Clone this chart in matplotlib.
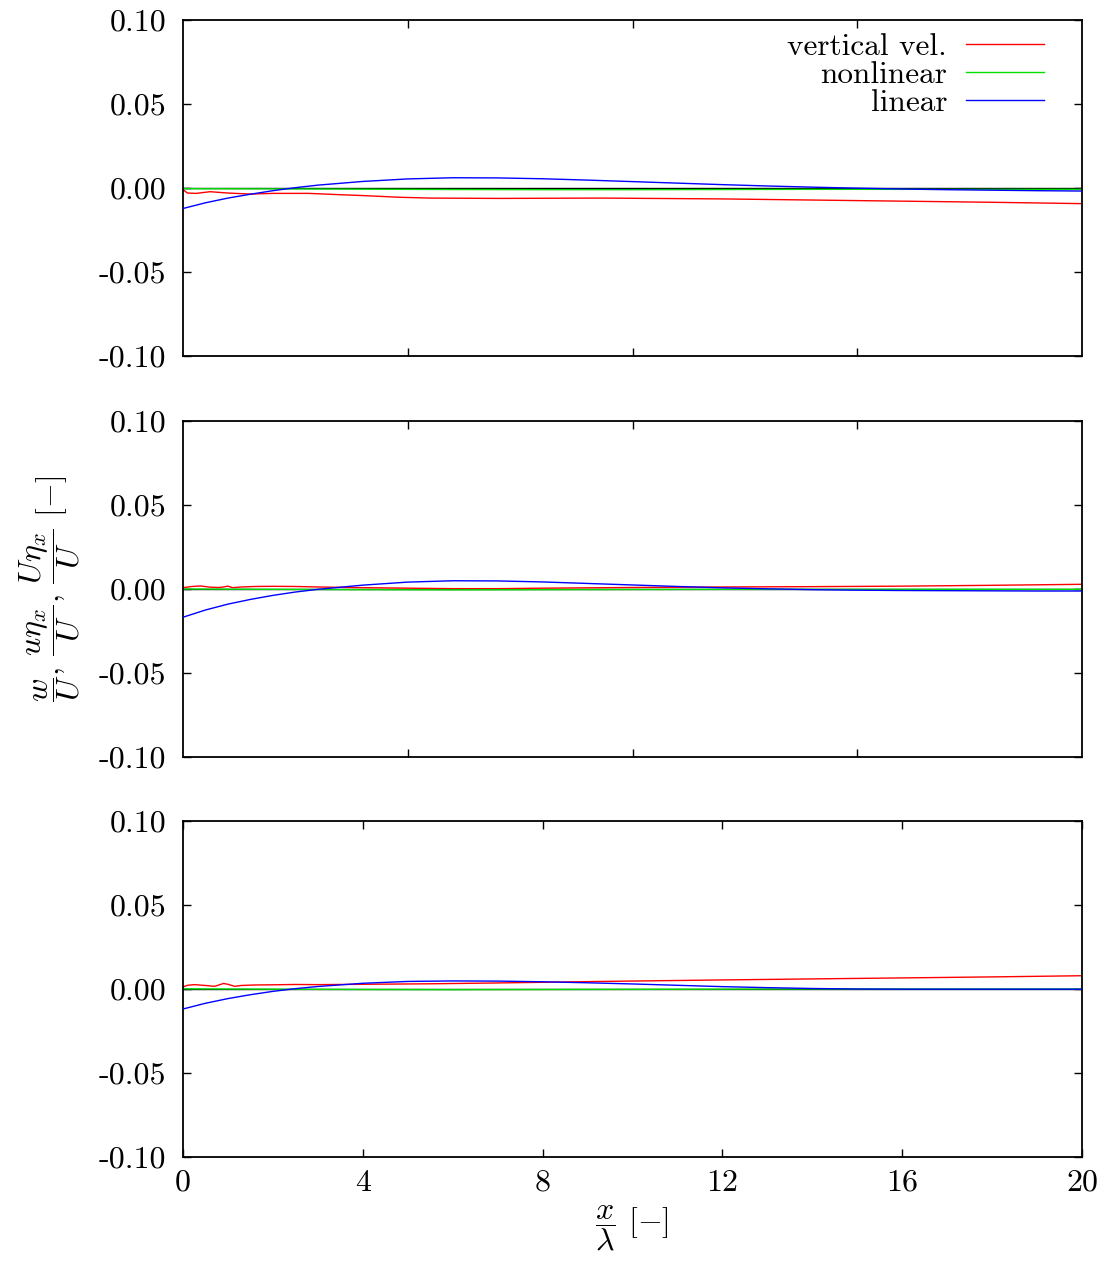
import numpy as np
import matplotlib
matplotlib.use("Agg")
import matplotlib.pyplot as plt

plt.rcParams['font.family'] = ['cmr10', 'DejaVu Serif']
plt.rcParams['mathtext.fontset'] = 'cm'
plt.rcParams['axes.unicode_minus'] = False
plt.rcParams['axes.formatter.use_mathtext'] = True

# panel 1
x1_red = [0, 0.1, 0.3, 0.6, 1.0, 1.5, 2.0, 2.8, 3.5, 4.0, 4.8, 5.5, 7.0, 9.3, 12.0, 15.0, 18.0, 20.0]
y1_red = [-0.001, -0.003, -0.0032, -0.0022, -0.003, -0.0036, -0.0032, -0.0032, -0.004, -0.0045, -0.0055,
          -0.006, -0.0062, -0.006, -0.0065, -0.0075, -0.0085, -0.0093]
x1_green = [0, 2, 4, 6, 8, 10, 12, 14, 16, 18, 20]
y1_green = [-0.0004, -0.0005, -0.0007, -0.0009, -0.001, -0.001, -0.0009, -0.0008, -0.0008, -0.0008, -0.0008]
x1_blue = [0, 0.5, 1, 1.5, 2, 2.5, 3, 4, 5, 6, 7, 8, 9, 10, 11, 12, 13, 14, 15, 16, 17, 18, 19, 20]
y1_blue = [-0.0122, -0.0088, -0.006, -0.0037, -0.0016, 0.0002, 0.0017, 0.0039, 0.0054, 0.0061, 0.006,
           0.0055, 0.0047, 0.0038, 0.0029, 0.002, 0.0012, 0.0005, -0.0001, -0.0006, -0.001, -0.0013,
           -0.0016, -0.0018]

# panel 2
x2_red = [0, 0.2, 0.4, 0.6, 0.8, 0.9, 1.0, 1.1, 1.3, 1.6, 2.0, 2.5, 3.0, 4.0, 5.0, 6.0, 7.0, 8.0, 9.0,
          10.0, 12.0, 14.0, 16.0, 18.0, 20.0]
y2_red = [0.0008, 0.0015, 0.0018, 0.0011, 0.0009, 0.0012, 0.0017, 0.0008, 0.0012, 0.0015, 0.0016, 0.0015,
          0.0012, 0.0008, 0.0005, 0.0002, 0.0002, 0.0005, 0.0007, 0.0009, 0.0012, 0.0014, 0.0017, 0.0022,
          0.0028]
x2_green = [0, 2, 4, 6, 8, 10, 12, 14, 16, 18, 20]
y2_green = [0.0, -0.0002, -0.0004, -0.0005, -0.0004, -0.0003, -0.0002, -0.0002, -0.0002, -0.0002, -0.0002]
x2_blue = [0, 0.5, 1, 1.5, 2, 2.5, 3, 4, 5, 6, 7, 8, 9, 10, 11, 12, 13, 14, 15, 16, 17, 18, 19, 20]
y2_blue = [-0.0168, -0.0125, -0.009, -0.0062, -0.0038, -0.0018, -0.0002, 0.0023, 0.0041, 0.0049, 0.0048,
           0.0042, 0.0033, 0.0024, 0.0015, 0.0007, 0.0001, -0.0004, -0.0007, -0.0009, -0.001, -0.0011,
           -0.0012, -0.0012]

# panel 3
x3_red = [0, 0.1, 0.25, 0.5, 0.7, 0.8, 0.9, 1.0, 1.15, 1.3, 1.6, 2.0, 2.5, 3.0, 4.0, 5.5, 7.0, 9.3,
          12.0, 15.0, 18.0, 20.0]
y3_red = [0.0012, 0.0022, 0.0026, 0.0021, 0.0016, 0.0024, 0.0033, 0.0028, 0.0016, 0.0021, 0.0024, 0.0025,
          0.0027, 0.0026, 0.0028, 0.0031, 0.0036, 0.0045, 0.0054, 0.0063, 0.0072, 0.0079]
x3_green = [0, 2, 4, 6, 8, 10, 12, 14, 16, 18, 20]
y3_green = [0.0001, -0.0001, -0.0003, -0.0004, -0.0003, -0.0002, -0.0001, 0.0, 0.0, 0.0, 0.0]
x3_blue = [0, 0.5, 1, 1.5, 2, 2.5, 3, 4, 5, 6, 7, 8, 9, 10, 11, 12, 13, 14, 15, 16, 17, 18, 19, 20]
y3_blue = [-0.0119, -0.0085, -0.0057, -0.0034, -0.0014, 0.0002, 0.0015, 0.0034, 0.0045, 0.0048, 0.0047,
           0.0043, 0.0037, 0.003, 0.0022, 0.0014, 0.0008, 0.0003, 0.0, -0.0001, -0.0001, -0.0001,
           -0.0001, -0.0001]

panels = [
    (x1_red, y1_red, x1_green, y1_green, x1_blue, y1_blue),
    (x2_red, y2_red, x2_green, y2_green, x2_blue, y2_blue),
    (x3_red, y3_red, x3_green, y3_green, x3_blue, y3_blue),
]

ytick_vals = [-0.10, -0.05, 0.00, 0.05, 0.10]
ytick_labels = ['-0.10', '-0.05', '0.00', '0.05', '0.10']
xtick_top = [5, 10, 15]
xtick_bottom = [0, 4, 8, 12, 16, 20]

W, H = 1112, 1264
fig = plt.figure(figsize=(W / 100, H / 100), dpi=100)

left, right = 183, 1082
tops = [20, 421, 821]
height = 336
fs = 23

for i, (xr, yr, xg, yg, xb, yb) in enumerate(panels):
    ax = fig.add_axes([left / W, 1 - (tops[i] + height) / H, (right - left) / W, height / H])
    ax.axhline(0, color='black', lw=1.0, zorder=1)
    ax.plot(xr, yr, color='#ff0000', lw=1.0, label='vertical vel.', zorder=2)
    ax.plot(xg, yg, color='#00e000', lw=1.0, label='nonlinear', zorder=2)
    ax.plot(xb, yb, color='#0000ff', lw=1.0, label='linear', zorder=3)
    ax.set_xlim(0, 20)
    ax.set_ylim(-0.1, 0.1)
    ax.set_yticks(ytick_vals)
    ax.set_yticklabels(ytick_labels)
    if i < 2:
        ax.set_xticks(xtick_top)
        ax.set_xticklabels([])
    else:
        ax.set_xticks(xtick_bottom)
        ax.set_xticklabels([str(v) for v in xtick_bottom])
    ax.tick_params(direction='in', length=6, width=1.0, top=True, right=True,
                   labelsize=fs)
    ax.tick_params(axis='y', pad=12)
    ax.tick_params(axis='x', pad=9)
    for sp in ax.spines.values():
        sp.set_linewidth(1.3)
    if i == 0:
        ax.legend(loc='upper right', frameon=False, markerfirst=False, fontsize=22.5,
                  handlelength=2.5, handletextpad=0.6, labelspacing=0.0,
                  borderaxespad=0.3, bbox_to_anchor=(0.982, 1.025))

fig.text(50 / W, 1 - 589 / H,
         r'$\dfrac{w}{U}$, $\dfrac{u\eta_x}{U}$, $\dfrac{U\eta_x}{U}$ [$-$]',
         rotation=90, ha='center', va='center', fontsize=fs)
fig.text(632 / W, 1 - 1228 / H, r'$\dfrac{x}{\lambda}$ [$-$]',
         ha='center', va='center', fontsize=fs)

fig.savefig('out.png', dpi=100)
